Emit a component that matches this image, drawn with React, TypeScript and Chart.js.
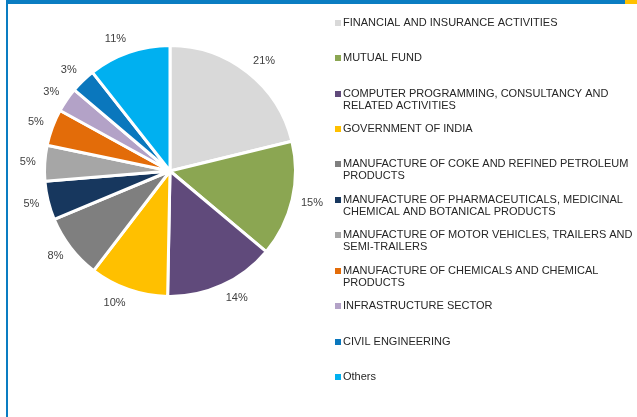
import React, { useEffect, useRef } from "react";
import { Chart, ArcElement, PieController } from "chart.js";

Chart.register(ArcElement, PieController);

const categories: string[][] = [
  ["FINANCIAL AND INSURANCE ACTIVITIES"],
  ["MUTUAL FUND"],
  ["COMPUTER PROGRAMMING, CONSULTANCY AND", "RELATED ACTIVITIES"],
  ["GOVERNMENT OF INDIA"],
  ["MANUFACTURE OF COKE AND REFINED PETROLEUM", "PRODUCTS"],
  ["MANUFACTURE OF PHARMACEUTICALS, MEDICINAL", "CHEMICAL AND BOTANICAL PRODUCTS"],
  ["MANUFACTURE OF MOTOR VEHICLES, TRAILERS AND", "SEMI-TRAILERS"],
  ["MANUFACTURE OF CHEMICALS AND CHEMICAL", "PRODUCTS"],
  ["INFRASTRUCTURE SECTOR"],
  ["CIVIL ENGINEERING"],
  ["Others"],
];

const shares: number[] = [21.2, 14.9, 14.2, 10.1, 8.3, 5.0, 4.6, 4.7, 3.2, 3.2, 10.6];

const sliceColors: string[] = [
  "#D9D9D9",
  "#8BA652",
  "#604A7B",
  "#FFC000",
  "#7F7F7F",
  "#17375E",
  "#A6A6A6",
  "#E36C09",
  "#B3A2C7",
  "#0A77BD",
  "#00B0F0",
];

const FONT = "11px 'Liberation Sans', Arial, sans-serif";

const pctLabelPlugin = {
  id: "pctLabels",
  afterDatasetsDraw(chart: any) {
    const ctx = chart.ctx;
    const meta = chart.getDatasetMeta(0);
    const data = chart.data.datasets[0].data as number[];
    const total = data.reduce((a, b) => a + b, 0);
    ctx.save();
    ctx.font = FONT;
    ctx.fillStyle = "#404040";
    ctx.textAlign = "center";
    ctx.textBaseline = "middle";
    meta.data.forEach((arc: any, i: number) => {
      const { x, y, startAngle, endAngle, outerRadius } = arc.getProps(
        ["x", "y", "startAngle", "endAngle", "outerRadius"],
        true
      );
      const mid = (startAngle + endAngle) / 2;
      const dx = Math.cos(mid);
      const dy = Math.sin(mid);
      const text = Math.round((data[i] / total) * 100) + "%";
      const w = ctx.measureText(text).width;
      const h = 11;
      const r = outerRadius + 9;
      const ax = x + dx * r;
      const ay = y + dy * r;
      ctx.fillText(text, ax + Math.sign(dx) * (w / 2), ay + dy * (h / 2));
    });
    ctx.restore();
  },
};

const legendPlugin = {
  id: "sideLegend",
  afterDraw(chart: any) {
    const ctx = chart.ctx;
    const labels = chart.data.labels as string[][];
    const colors = chart.data.datasets[0].backgroundColor as string[];
    ctx.save();
    ctx.font = FONT;
    ctx.textAlign = "left";
    ctx.textBaseline = "middle";
    const x0 = 335;
    const y0 = 22.6;
    const step = 35.46;
    const lineH = 12;
    labels.forEach((lines, i) => {
      const cy = y0 + i * step;
      ctx.fillStyle = colors[i];
      ctx.fillRect(x0, Math.round(cy - 3), 6, 6);
      ctx.fillStyle = "#262626";
      lines.forEach((ln, j) => {
        ctx.fillText(ln, x0 + 8, cy + j * lineH);
      });
    });
    ctx.restore();
  },
};

export default function App() {
  const ref = useRef<HTMLCanvasElement | null>(null);
  useEffect(() => {
    document.body.style.margin = "0";
    if (!ref.current) return;
    const chart = new Chart(ref.current, {
      type: "pie",
      data: {
        labels: categories as any,
        datasets: [
          {
            data: shares,
            backgroundColor: sliceColors,
            borderColor: "#FFFFFF",
            borderWidth: 3,
          },
        ],
      },
      options: {
        responsive: false,
        animation: false,
        events: [],
        layout: { padding: { left: 43, top: 44, right: 340, bottom: 119 } },
        plugins: {
          legend: { display: false },
          tooltip: { enabled: false },
        } as any,
      },
      plugins: [pctLabelPlugin, legendPlugin],
    });
    return () => chart.destroy();
  }, []);

  return (
    <div style={{ position: "relative", width: 637, height: 417, background: "#fff", overflow: "hidden" }}>
      <canvas ref={ref} width={637} height={417} style={{ position: "absolute", left: 0, top: 0 }} />
      <div style={{ position: "absolute", left: 6, top: 0, width: 619, height: 4, background: "#0A7DC2" }} />
      <div style={{ position: "absolute", left: 625, top: 0, width: 12, height: 4, background: "#FFC000" }} />
      <div style={{ position: "absolute", left: 6, top: 0, width: 2, height: 417, background: "#0A7DC2" }} />
    </div>
  );
}
